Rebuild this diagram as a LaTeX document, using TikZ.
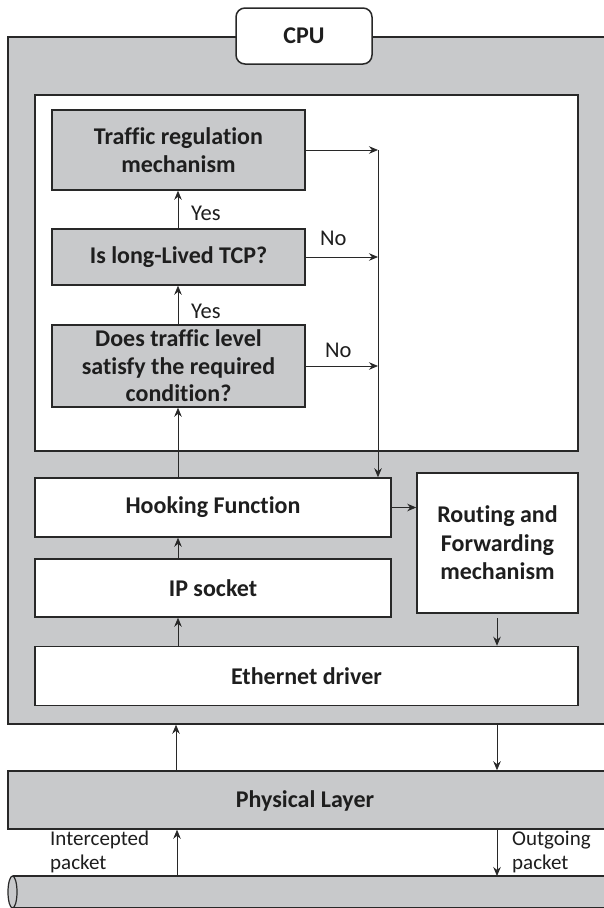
\documentclass[tikz,border=0pt]{standalone}
\usepackage{fontspec}
\setmainfont{Carlito}[Ligatures={NoCommon}]
\usetikzlibrary{arrows.meta}
\definecolor{panel}{RGB}{200,201,203}
\definecolor{edge}{RGB}{40,40,40}
\definecolor{ink}{RGB}{30,30,30}
\begin{document}
\begin{tikzpicture}[x=1pt,y=-1pt,
  box/.style={draw=edge,line width=1.5pt,rectangle,inner sep=0pt,align=center,text=ink,
    font=\bfseries\fontsize{24}{27.5}\selectfont},
  graybox/.style={box,fill=panel},
  whitebox/.style={box,fill=white},
  flow/.style={draw=edge,line width=0.8pt,-{Stealth[length=9pt,width=7.5pt]}},
  plain/.style={draw=edge,line width=0.8pt},
  tag/.style={font=\fontsize{22.5}{26}\selectfont,inner sep=0pt,text=ink},
  note/.style={font=\fontsize{21}{23.5}\selectfont,inner sep=0pt,align=left,anchor=north west,text=ink}]
\useasboundingbox (0,0) rectangle (603,908);
\fill[white] (0,0) rectangle (603,908);

% CPU enclosure with its tab
\node[graybox,minimum width=612pt,minimum height=687pt] (cpu) at (314,380.5) {};
\node[whitebox,rounded corners=9pt,minimum width=136pt,minimum height=56pt] (cputab) at (304,36) {CPU};

% decision area
\node[whitebox,minimum width=543pt,minimum height=356pt] (area) at (306.5,273) {};
\node[graybox,minimum width=253pt,minimum height=80pt] (reg) at (178.5,150) {Traffic regulation\\mechanism};
\node[graybox,minimum width=253pt,minimum height=56pt] (tcp) at (178.5,257) {Is long-Lived TCP?};
\node[graybox,minimum width=253pt,minimum height=82pt] (level) at (178.5,366) {Does traffic level\\satisfy the required\\condition?};

% stack blocks
\node[whitebox,minimum width=356pt,minimum height=59pt] (hook) at (213,507.5) {Hooking Function};
\node[whitebox,minimum width=161pt,minimum height=140pt,
  font=\bfseries\fontsize{24}{28.5}\selectfont] (route) at (497.5,543) {Routing and\\Forwarding\\mechanism};
\node[whitebox,minimum width=356pt,minimum height=58pt] (ip) at (213,588) {IP socket};
\node[whitebox,minimum width=543pt,minimum height=59pt] (eth) at (306.5,676) {Ethernet driver};

% physical layer and cable
\node[graybox,minimum width=612pt,minimum height=58pt] (phys) at (314,800) {};
\node[font=\bfseries\fontsize{24}{27.5}\selectfont,text=ink] (physlabel) at (305,801) {Physical Layer};
\filldraw[fill=panel,draw=edge,line width=1.2pt] (12.5,876) -- (620,876) -- (620,908) -- (12.5,908);
\draw[fill=panel,draw=edge,line width=1.2pt] (12.5,892) ellipse [x radius=4.5,y radius=16];
\coordinate (cablein) at (177,876);
\coordinate (cableout) at (497,876);

% collector line on the right of the decisions
\coordinate (bus) at (378,150);
\coordinate (busend) at (378,472);
\draw[flow] (reg.east |- 0,150) -- (bus);
\draw[flow] (tcp.east) -- (tcp.east -| bus);
\draw[flow] (level.east) -- (level.east -| bus);
\draw[plain] (bus) -- (busend |- 0,465);
\draw[flow] (378,460) -- (hook.north -| bus);

\node[tag,anchor=west] (no1) at (320,238) {No};
\node[tag,anchor=west] (no2) at (325,350) {No};

% upward path through the decisions
\draw[flow] (hook.north -| 178,0) -- (level.south -| 178,0);
\draw[flow] (level.north -| 178,0) -- (tcp.south -| 178,0);
\node[tag,anchor=west] (yes2) at (191,311) {Yes};
\draw[flow] (tcp.north -| 178,0) -- (reg.south -| 178,0);
\node[tag,anchor=west] (yes1) at (191,213) {Yes};

% stack connections
\draw[flow] (hook.east) -- (route.west |- hook.east);
\draw[flow] (ip.north -| 178,0) -- (hook.south -| 178,0);
\draw[flow] (eth.north -| 178,0) -- (ip.south -| 178,0);
\draw[flow] (497,618) -- (eth.north -| 497,0);
\draw[flow] (phys.north -| 176,0) -- (cpu.south -| 176,0);
\draw[flow] (cpu.south -| 497,0) -- (phys.north -| 497,0);
\draw[flow] (cablein) -- (phys.south -| cablein);
\draw[flow] (phys.south -| cableout) -- (cableout);

\node[note] (inlabel) at (50,831) {Intercepted\\packet};
\node[note] (outlabel) at (512,831) {Outgoing\\packet};
\end{tikzpicture}
\end{document}
